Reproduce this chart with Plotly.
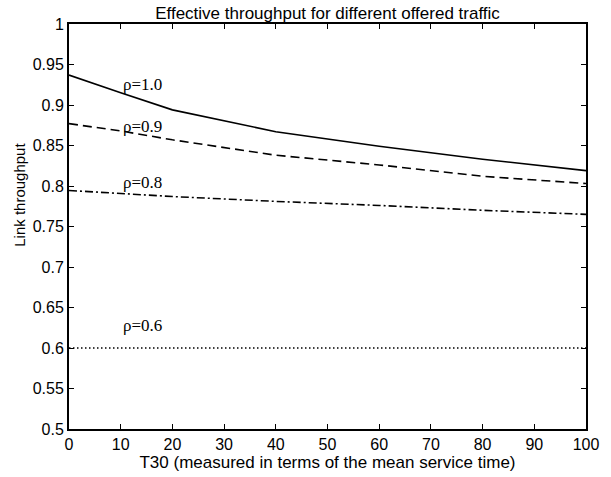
import plotly.graph_objects as go

x_t30 = [0, 10, 20, 40, 60, 80, 100]
rho_10 = [0.937, 0.915, 0.894, 0.867, 0.849, 0.833, 0.819]
rho_09 = [0.877, 0.868, 0.857, 0.838, 0.826, 0.812, 0.803]
rho_08 = [0.7945, 0.791, 0.787, 0.781, 0.776, 0.770, 0.765]
rho_06 = [0.600, 0.600, 0.600, 0.600, 0.600, 0.600, 0.600]

label_text = ["ρ=1.0", "ρ=0.9", "ρ=0.8", "ρ=0.6"]
label_x = [10, 10, 10, 10]
label_y = [0.925, 0.874, 0.804, 0.628]

x_ticks = list(range(0, 101, 10))
y_ticks = [0.5, 0.55, 0.6, 0.65, 0.7, 0.75, 0.8, 0.85, 0.9, 0.95, 1.0]
y_tick_text = ["0.5", "0.55", "0.6", "0.65", "0.7", "0.75", "0.8", "0.85", "0.9", "0.95", "1"]

SANS = "Liberation Sans, Arial, Helvetica, sans-serif"
SERIF = "Liberation Serif, Times New Roman, serif"

fig = go.Figure()
styles = [("solid", rho_10), ("9px,5px", rho_09), ("8px,3px,2px,3px", rho_08), ("1.5px,2.5px", rho_06)]
for dash, ys in styles:
    fig.add_trace(go.Scatter(x=x_t30, y=ys, mode="lines",
                             line=dict(color="black", width=1.6, dash=dash),
                             showlegend=False, hoverinfo="skip"))

for t, lx, ly in zip(label_text, label_x, label_y):
    fig.add_annotation(x=lx, y=ly, text=t, showarrow=False, xanchor="left", yanchor="middle",
                       font=dict(family=SERIF, size=17, color="black"))

# y-axis title (placed as in the reference, above the axis centre)
fig.add_annotation(xref="paper", yref="y", x=-0.095, y=0.789, text="Link throughput",
                   textangle=-90, showarrow=False, xanchor="center", yanchor="middle",
                   font=dict(family=SANS, size=15, color="black"))

axis_common = dict(showline=True, linecolor="black", linewidth=2, mirror="ticks",
                   ticks="inside", ticklen=5, tickwidth=1, tickcolor="black",
                   showgrid=False, zeroline=False,
                   tickfont=dict(family=SANS, size=16, color="black"))

fig.update_xaxes(range=[0, 100], tickvals=x_ticks,
                 title=dict(text="T30 (measured in terms of the mean service time)", standoff=0,
                            font=dict(family=SANS, size=17, color="black")),
                 **axis_common)
fig.update_yaxes(range=[0.5, 1.0], tickvals=y_ticks, ticktext=y_tick_text, ticklabelstandoff=0,
                 **axis_common)

fig.update_layout(
    width=611, height=477,
    margin=dict(l=69, r=25, t=24, b=45),
    paper_bgcolor="white", plot_bgcolor="white",
    title=dict(text="Effective throughput for different offered traffic", x=0.5, xref="paper",
               xanchor="center", y=1, yref="paper", yanchor="bottom", pad=dict(b=5),
               font=dict(family=SANS, size=17, color="black")),
)

fig.write_html("out.html", config={"displayModeBar": False, "staticPlot": True},
               post_script="document.body.style.margin='0';document.body.style.padding='0';")
